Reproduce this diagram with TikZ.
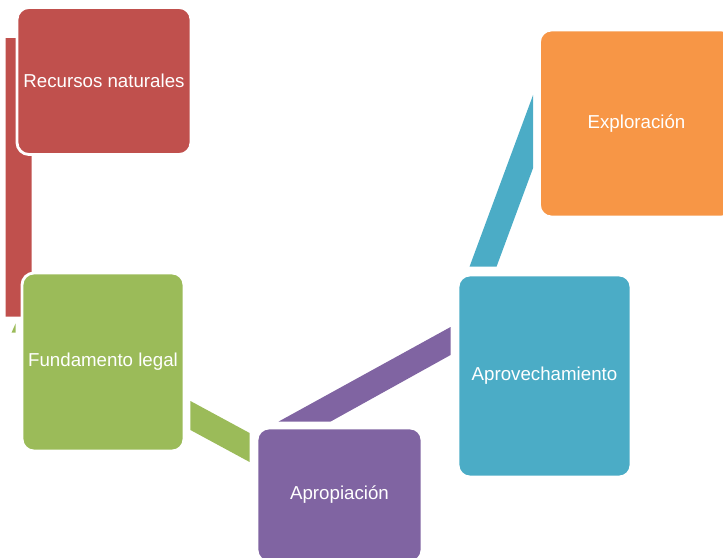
\documentclass[tikz,border=0pt]{standalone}
\usepackage{fontspec}
\setmainfont{Liberation Sans}
\usetikzlibrary{calc,backgrounds}

\definecolor{recred}{HTML}{C0504D}
\definecolor{exporange}{HTML}{F79646}
\definecolor{fungreen}{HTML}{9BBB59}
\definecolor{aprblue}{HTML}{4BACC6}
\definecolor{apopurple}{HTML}{8064A2}

\begin{document}
\begin{tikzpicture}[
    x=0.025cm, y=-0.025cm,
    stage/.style={rectangle, rounded corners=0.3cm, draw=white, line width=2pt, text=white, font=\fontsize{13.3}{16}\selectfont, inner sep=0pt, align=center}
]
    \useasboundingbox (0,0) rectangle (723,558);
    \clip (0,0) rectangle (723,558);

    % Stages
    \node[stage, fill=recred, minimum width=4.35cm, minimum height=3.675cm] (rec) at (104,81) {Recursos naturales};
    \node[stage, fill=exporange, minimum width=4.85cm, minimum height=4.675cm] (exp) at (636.5,123.5) {Exploración};
    \node[stage, fill=fungreen, minimum width=4.05cm, minimum height=4.45cm] (fun) at (103,362) {Fundamento legal};
    \node[stage, fill=aprblue, minimum width=4.325cm, minimum height=5.05cm] (apr) at (544.5,376) {Aprovechamiento};
    \node[stage, fill=apopurple, minimum width=4.125cm, minimum height=3.35cm] (apo) at (339.5,495) {Apropiación};

    % Connectors behind the stages
    \begin{scope}[on background layer]
        \fill[recred] ($(rec.north west)+(-10,32)$) -- ($(rec.north west)+(16,32)$)
            -- ($(fun.north west)+(11,45)$) -- ($(fun.north west)+(-15,45)$) -- cycle;
        \fill[fungreen] ($(fun.north west)+(-9,61)$) -- ($(fun.north west)+(-5,52)$) -- ($(fun.north west)+(-5,61)$) -- cycle;
        \fill[fungreen] ($(fun.east)+(5,39)$) -- ($(apo.west)+(-6,-62)$)
            -- ($(apo.west)+(-6,-33)$) -- ($(fun.east)+(5,68)$) -- cycle;
        \fill[apopurple] ($(apo.north west)+(23,-5)$) -- ($(apr.west)+(-6,-49)$)
            -- ($(apr.west)+(-6,-21)$) -- ($(apo.north west)+(75,-5)$) -- cycle;
        \fill[aprblue] ($(apr.north west)+(13,-7)$) -- ($(exp.west)+(-5,-28.5)$)
            -- ($(exp.west)+(-5,44.5)$) -- ($(apr.north west)+(40,-7)$) -- cycle;
    \end{scope}
\end{tikzpicture}
\end{document}
